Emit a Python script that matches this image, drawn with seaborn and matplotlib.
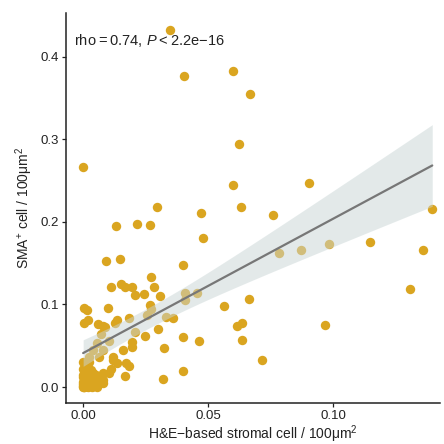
import numpy as np
import pandas as pd
import matplotlib
matplotlib.use("Agg")
import matplotlib.pyplot as plt
import seaborn as sns

# H&E-based stromal cell density (x) and SMA+ cell density (y), per 100 um^2
stromal = [
    0.0349, 0.0405, 0.0599, 0.0668, 0.0622, 0.0001, 0.0598, 0.0902, 0.0295, 0.0472,
    0.0632, 0.0760, 0.0132, 0.0215, 0.0267, 0.0478, 0.1397, 0.0785, 0.0872, 0.0982,
    0.1146, 0.1360, 0.1307, 0.0665, 0.0635, 0.0614, 0.0967, 0.0637, 0.0716,
    0.0092, 0.0148, 0.0400, 0.0270, 0.0113, 0.0152, 0.0168, 0.0197, 0.0209, 0.0244,
    0.0285, 0.0308, 0.0408, 0.0454, 0.0408, 0.0563, 0.0004, 0.0016, 0.0100, 0.0267,
    0.0271, 0.0257, 0.0004, 0.0021, 0.0058, 0.0080, 0.0089, 0.0135, 0.0128, 0.0185,
    0.0332, 0.0358, 0.0073, 0.0057, 0.0105, 0.0207, 0.0299, 0.0248, 0.0195, 0.0194,
    0.0161, 0.0401, 0.0464, 0.0039, 0.0025, 0.0079, 0.0121, 0.0119, 0.0135, 0.0172,
    0.0185, 0.0324, 0.0113, 0.0169, 0.0319, 0.0401, 0.0081, 0.0079, 0.0105, 0.0079,
    0.0000, 0.0025, 0.0065,
    0.0000, 0.0010, 0.0020, 0.0030, 0.0040, 0.0050, 0.0060, 0.0000, 0.0010, 0.0020,
    0.0030, 0.0040, 0.0000, 0.0010, 0.0020, 0.0030, 0.0000, 0.0010, 0.0020, 0.0050,
    0.0060, 0.0040, 0.0005, 0.0035, 0.0055,
    0.0000, 0.0005, 0.0010, 0.0015, 0.0020, 0.0025, 0.0030, 0.0000, 0.0005, 0.0010,
    0.0015, 0.0020, 0.0025, 0.0000, 0.0010,
]
sma = [
    0.4327, 0.3766, 0.3830, 0.3552, 0.2942, 0.2663, 0.2448, 0.2473, 0.2178, 0.2105,
    0.2178, 0.2088, 0.1955, 0.1979, 0.1960, 0.1804, 0.2154, 0.1621, 0.1661, 0.1727,
    0.1758, 0.1661, 0.1184, 0.1067, 0.0779, 0.0743, 0.0755, 0.0570, 0.0327,
    0.1531, 0.1548, 0.1482, 0.1327, 0.1212, 0.1245, 0.1208, 0.1216, 0.1113, 0.1121,
    0.1212, 0.1097, 0.1143, 0.1143, 0.1055, 0.0985, 0.0954, 0.0937, 0.0952, 0.0994,
    0.0942, 0.0873, 0.0772, 0.0812, 0.0764, 0.0739, 0.0724, 0.0806, 0.0779, 0.0833,
    0.0845, 0.0833, 0.0639, 0.0537, 0.0561, 0.0670, 0.0699, 0.0612, 0.0549, 0.0485,
    0.0448, 0.0604, 0.0555, 0.0448, 0.0367, 0.0448, 0.0367, 0.0327, 0.0287, 0.0295,
    0.0255, 0.0470, 0.0215, 0.0133, 0.0091, 0.0188, 0.0085, 0.0052, 0.0166, 0.0166,
    0.0307, 0.0307, 0.0367,
    0.0000, 0.0020, 0.0000, 0.0040, 0.0010, 0.0030, 0.0060, 0.0060, 0.0100, 0.0080,
    0.0120, 0.0090, 0.0140, 0.0180, 0.0150, 0.0200, 0.0220, 0.0250, 0.0220, 0.0150,
    0.0110, 0.0170, 0.0000, 0.0000, 0.0000,
    0.0010, 0.0005, 0.0030, 0.0015, 0.0050, 0.0020, 0.0080, 0.0035, 0.0070, 0.0045,
    0.0100, 0.0060, 0.0110, 0.0120, 0.0130,
]

x_ticks = [0.00, 0.05, 0.10]
x_tick_labels = ["0.00", "0.05", "0.10"]
y_ticks = [0.0, 0.1, 0.2, 0.3, 0.4]
y_tick_labels = ["0.0", "0.1", "0.2", "0.3", "0.4"]

df = pd.DataFrame({"stromal": stromal, "sma": sma})

sns.set_style("ticks")
plt.rcParams["font.family"] = ["Liberation Sans", "DejaVu Sans"]
plt.rcParams["mathtext.fontset"] = "custom"
plt.rcParams["mathtext.rm"] = "Liberation Sans"
plt.rcParams["mathtext.it"] = "Liberation Sans:italic"

ink = "#222222"
fig, ax = plt.subplots(figsize=(4.44, 4.44), dpi=100)
fig.subplots_adjust(left=0.149, right=0.991, bottom=0.0923, top=0.9707)

sns.scatterplot(data=df, x="stromal", y="sma", ax=ax, color="#DAA520",
                s=46, linewidth=0, alpha=1, zorder=2)
sns.regplot(data=df, x="stromal", y="sma", ax=ax, scatter=False, ci=None,
            line_kws=dict(color="#777777", lw=1.6, zorder=4))

# 95% confidence band of the least-squares fit (t-based, as in lm)
xv = df["stromal"].to_numpy()
yv = df["sma"].to_numpy()
n = len(xv)
b1, b0 = np.polyfit(xv, yv, 1)
resid = yv - (b0 + b1 * xv)
s = np.sqrt(np.sum(resid ** 2) / (n - 2))
grid = np.linspace(xv.min(), xv.max(), 100)
se = s * np.sqrt(1.0 / n + (grid - xv.mean()) ** 2 / np.sum((xv - xv.mean()) ** 2))
tcrit = 1.977
fit = b0 + b1 * grid
ax.fill_between(grid, fit - tcrit * se, fit + tcrit * se, color="#C9D5D5",
                alpha=0.5, linewidth=0, zorder=3)

ax.set_xlim(-0.0068, 0.1428)
ax.set_ylim(-0.0194, 0.453)
ax.set_xticks(x_ticks)
ax.set_xticklabels(x_tick_labels)
ax.set_yticks(y_ticks)
ax.set_yticklabels(y_tick_labels)
ax.tick_params(axis="both", length=3, width=0.9, color=ink, labelcolor=ink,
               labelsize=9.5, pad=2)

for side in ("top", "right"):
    ax.spines[side].set_visible(False)
for side in ("left", "bottom"):
    ax.spines[side].set_color(ink)
    ax.spines[side].set_linewidth(1.1)

ax.set_xlabel("H&E\u2212based stromal cell / 100\u03bcm$^{2}$", fontsize=10,
              color=ink, labelpad=1)
ax.set_ylabel("SMA$^{+}$ cell / 100\u03bcm$^{2}$", fontsize=10, color=ink,
              labelpad=4)

ax.text(0.02, 0.93, "rho\u2009=\u20090.74, $\\mathit{P}$\u2009<\u20092.2e\u221216",
        transform=ax.transAxes, fontsize=10.5, color=ink, va="center", ha="left")

fig.savefig("out.png", dpi=100)
